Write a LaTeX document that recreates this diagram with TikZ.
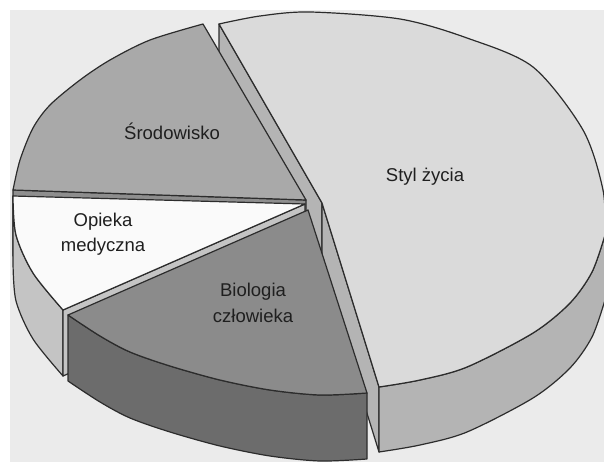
\documentclass[tikz,border=0pt]{standalone}
\usepackage{fontspec}
\setmainfont{Liberation Sans}
\usepackage{tikz}
\usetikzlibrary{positioning}
\definecolor{bgpage}{HTML}{EBEBEB}
\definecolor{edgec}{HTML}{2C2C2C}
\definecolor{stylc}{HTML}{DADADA}
\definecolor{stylsidec}{HTML}{B4B4B4}
\definecolor{srodc}{HTML}{A9A9A9}
\definecolor{srodsidec}{HTML}{8E8E8E}
\definecolor{opiekac}{HTML}{FAFAFA}
\definecolor{opiekasidec}{HTML}{C4C4C4}
\definecolor{bioc}{HTML}{8B8B8B}
\definecolor{biosidec}{HTML}{6C6C6C}
\tikzset{
  face/.style={draw=edgec, line width=1.2pt, line join=round},
  pielabel/.style={font=\fontsize{18.5}{25.5}\selectfont, align=center, text=black!88}
}

\begin{document}
\begin{tikzpicture}[x=1pt,y=-1pt]
  \useasboundingbox (0,0) rectangle (604,462);
  \fill[white] (0,0) rectangle (604,462);
  \fill[bgpage] (10,10) rectangle (604,462);

  % Styl zycia (pulled out to the right)
  \filldraw[face, fill=stylsidec] (322,203) -- (219,24) -- (219,89) -- (322,268) -- cycle;
  \filldraw[face, fill=stylsidec] (322,203) -- (379,387) -- (379,452) -- (322,268) -- cycle;
  \filldraw[face, fill=stylsidec] plot[smooth] coordinates {(379,387) (420,380) (467,367) (533,333) (570,303) (592,272) (605,235)}
    -- plot[smooth] coordinates {(605,300) (592,337) (570,368) (533,398) (467,432) (420,445) (379,452)} -- cycle;
  \filldraw[face, fill=stylc] (322,203) -- plot[smooth] coordinates {(219,24) (260,16) (310,12) (400,19) (467,38) (533,67) (583,130) (603,190) (605,235)}
    -- plot[smooth] coordinates {(605,235) (592,272) (570,303) (533,333) (467,367) (420,380) (379,387)} -- cycle;

  % Srodowisko
  \filldraw[face, fill=srodsidec] (306,200) -- (13,190) -- (13,256) -- (306,266) -- cycle;
  \filldraw[face, fill=srodc] (306,200) -- plot[smooth] coordinates {(203,24) (150,40) (110,60) (80,80) (50,105) (33,128) (20,160) (13,190)} -- cycle;

  % Opieka medyczna
  \filldraw[face, fill=opiekasidec] plot[smooth] coordinates {(13,196) (16,235) (33,273) (63,310)}
    -- plot[smooth] coordinates {(63,376) (33,339) (16,301) (13,262)} -- cycle;
  \filldraw[face, fill=opiekasidec] (305,204) -- (63,310) -- (63,376) -- (305,270) -- cycle;
  \filldraw[face, fill=opiekac] (305,204) -- plot[smooth] coordinates {(13,196) (16,235) (33,273) (63,310)} -- cycle;

  % Biologia czlowieka
  \filldraw[face, fill=biosidec] plot[smooth] coordinates {(68,315) (100,336) (130,352) (170,366) (220,380) (270,390) (320,395) (367,393)}
    -- plot[smooth] coordinates {(367,459) (320,461) (270,456) (220,446) (170,432) (130,418) (100,402) (68,381)} -- cycle;
  \filldraw[face, fill=bioc] (308,210) -- plot[smooth] coordinates {(68,315) (100,336) (130,352) (170,366) (220,380) (270,390) (320,395) (367,393)} -- cycle;

  \node[pielabel] (styl) at (425,177) {Styl życia};
  \node[pielabel] (srod) at (172,131) {Środowisko};
  \node[pielabel] (opieka) at (103,234) {Opieka\\medyczna};
  \node[pielabel] (bio) at (253,303) {Biologia\\człowieka};
\end{tikzpicture}
\end{document}
